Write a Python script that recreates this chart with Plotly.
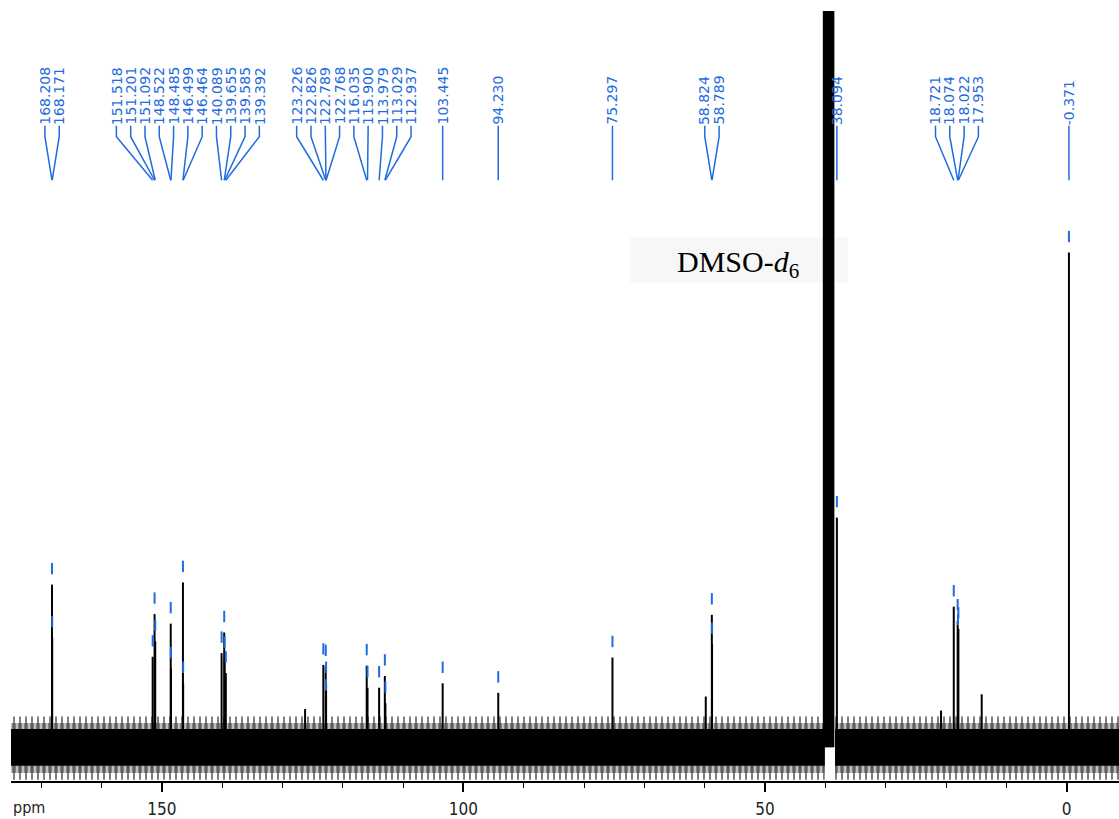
import plotly.graph_objects as go

# ---------------- data ----------------
# labelled 13C peaks: chemical shift (ppm) and apparent height (arbitrary units, 100 = top of frame)
peak_ppm = [168.208, 168.171, 151.518, 151.201, 151.092, 148.522, 148.485, 146.499, 146.464,
            140.089, 139.655, 139.585, 139.392, 123.226, 122.826, 122.789, 122.768,
            116.035, 115.900, 113.979, 113.029, 112.937, 103.445, 94.230, 75.297,
            58.824, 58.789, 38.094, 18.721, 18.074, 18.022, 17.953, -0.371]
peak_int = [22.1, 14.9, 12.3, 18.1, 14.4, 16.8, 10.7, 22.4, 8.7,
            12.8, 15.6, 12.1, 10.1, 11.2, 11.0, 6.3, 8.7,
            11.1, 8.1, 8.1, 9.7, 6.0, 8.7, 7.4, 12.2,
            18.0, 14.0, 31.2, 19.1, 17.2, 15.2, 16.1, 67.2]

# label groups (as the peak labels are clustered at the top)
label_groups = [
    [168.208, 168.171],
    [151.518, 151.201, 151.092, 148.522, 148.485, 146.499, 146.464, 140.089, 139.655, 139.585, 139.392],
    [123.226, 122.826, 122.789, 122.768, 116.035, 115.900, 113.979, 113.029, 112.937],
    [103.445],
    [94.230],
    [75.297],
    [58.824, 58.789],
    [38.094],
    [18.721, 18.074, 18.022, 17.953],
    [-0.371],
]

# small unlabelled signals
minor_ppm = [126.25, 59.83, 20.83, 14.09]
minor_int = [5.2, 6.9, 5.0, 7.2]

# solvent (DMSO-d6) septet, runs off the top of the frame
dmso_ppm = [40.22, 39.97, 39.72, 39.47, 39.22, 38.97, 38.72]
dmso_int = [150, 450, 900, 1050, 900, 450, 150]

# baseline noise envelope (two segments, interrupted under the solvent signal)
noise_ppm_a = [175.0, 150.0, 125.0, 100.0, 75.0, 50.0, 40.1]
noise_ppm_b = [38.4, 25.0, 0.0, -8.7]
# noise layers: (upper, lower, pattern size px, solidity)
noise_layers = [
    (4.2, -4.4, 6, 0.34),
    (3.3, -3.5, 3, 0.67),
]
noise_core_hi = 2.5
noise_core_lo = -2.5

x_range = [175.0, -8.67]
y_range = [-4.57, 100.0]

BLUE = "#1f6be0"

# ---------------- helpers for layout in pixel terms ----------------
PX_PER_INT = 7.44
BASE_PX = 755.0
PX_PER_PPM = 6.034


def ypx(p):
    return (BASE_PX - p) / PX_PER_INT


fig = go.Figure()

# noise bands
for seg in (noise_ppm_a, noise_ppm_b):
    xs = seg + seg[::-1]
    for hi, lo, size, sol in noise_layers:
        fig.add_trace(go.Scatter(
            x=xs, y=[hi] * len(seg) + [lo] * len(seg),
            fill="toself", mode="lines", line=dict(width=0, color="rgba(0,0,0,0)"),
            fillcolor="rgba(0,0,0,0)",
            fillpattern=dict(shape="|", size=size, solidity=sol, fgcolor="black",
                             bgcolor="rgba(0,0,0,0)"),
            hoverinfo="skip", showlegend=False))
    fig.add_trace(go.Scatter(
        x=xs, y=[noise_core_hi] * len(seg) + [noise_core_lo] * len(seg),
        fill="toself", mode="lines", line=dict(width=0, color="black"),
        fillcolor="black", hoverinfo="skip", showlegend=False))

# spectrum spikes
sx, sy = [], []
for p, h in sorted(zip(peak_ppm + minor_ppm, peak_int + minor_int), reverse=True):
    sx += [p, p, None]
    sy += [0, h, None]
fig.add_trace(go.Scatter(x=sx, y=sy, mode="lines", line=dict(color="black", width=2),
                         hoverinfo="skip", showlegend=False))

dx, dy = [], []
for p, h in zip(dmso_ppm, dmso_int):
    dx += [p, p, None]
    dy += [0, h, None]
fig.add_trace(go.Scatter(x=dx, y=dy, mode="lines", line=dict(color="black", width=2.5),
                         hoverinfo="skip", showlegend=False))

# peak-pick markers
mx, my = [], []
for p, h in zip(peak_ppm, peak_int):
    mx += [p, p, None]
    my += [h + 1.4, h + 2.95, None]
fig.add_trace(go.Scatter(x=mx, y=my, mode="lines", line=dict(color=BLUE, width=2),
                         hoverinfo="skip", showlegend=False))

# labels and connectors
spacing = 14.3 / PX_PER_PPM
cx, cy = [], []
annotations = []
for grp in label_groups:
    n = len(grp)
    center = sum(grp) / n
    for k, p in enumerate(grp):
        lp = center + ((n - 1) / 2 - k) * spacing
        cx += [lp, lp, p, None]
        cy += [ypx(127), ypx(138), ypx(182), None]
        annotations.append(dict(
            x=lp, y=ypx(127), xref="x", yref="y", text=f"{p:.3f}", textangle=-90,
            showarrow=False, xanchor="center", yanchor="bottom",
            font=dict(family="DejaVu Sans", size=14, color=BLUE), borderpad=0))
fig.add_trace(go.Scatter(x=cx, y=cy, mode="lines", line=dict(color=BLUE, width=1.5),
                         hoverinfo="skip", showlegend=False))

# solvent label with faint box
fig.add_shape(type="rect", xref="x", yref="y",
              x0=50 + (765 - 630) / PX_PER_PPM, x1=50 - (848 - 765) / PX_PER_PPM,
              y0=ypx(285), y1=ypx(240), fillcolor="#f7f7f7", line=dict(width=0), layer="below")
annotations.append(dict(
    x=50 + (765 - 675) / PX_PER_PPM, y=ypx(267), xref="x", yref="y",
    text="DMSO-<i>d</i><sub>6</sub>", showarrow=False, xanchor="left", yanchor="middle",
    font=dict(family="Liberation Serif, Times New Roman, serif", size=30, color="black")))

# axis title "ppm"
annotations.append(dict(
    x=0, y=-0.034, xref="paper", yref="paper", text="ppm", showarrow=False,
    xanchor="left", yanchor="middle",
    font=dict(family="DejaVu Sans Condensed, DejaVu Sans", size=16, color="#222")))

fig.update_layout(
    width=1119, height=819,
    margin=dict(l=11, r=0, t=11, b=30),
    paper_bgcolor="white", plot_bgcolor="white",
    showlegend=False,
    annotations=annotations,
    xaxis=dict(range=x_range, tick0=0, dtick=50, ticks="outside", ticklen=9, tickwidth=1.5,
               tickcolor="black", showline=True, linecolor="black", linewidth=1.5,
               showgrid=False, zeroline=False, ticklabelstandoff=3,
               tickfont=dict(family="DejaVu Sans Condensed, DejaVu Sans", size=17, color="#222"),
               minor=dict(dtick=10, tick0=0, ticks="outside", ticklen=5, tickwidth=1,
                          tickcolor="black", showgrid=False)),
    yaxis=dict(range=y_range, visible=False, showgrid=False, zeroline=False),
)

fig.write_html("out.html")
